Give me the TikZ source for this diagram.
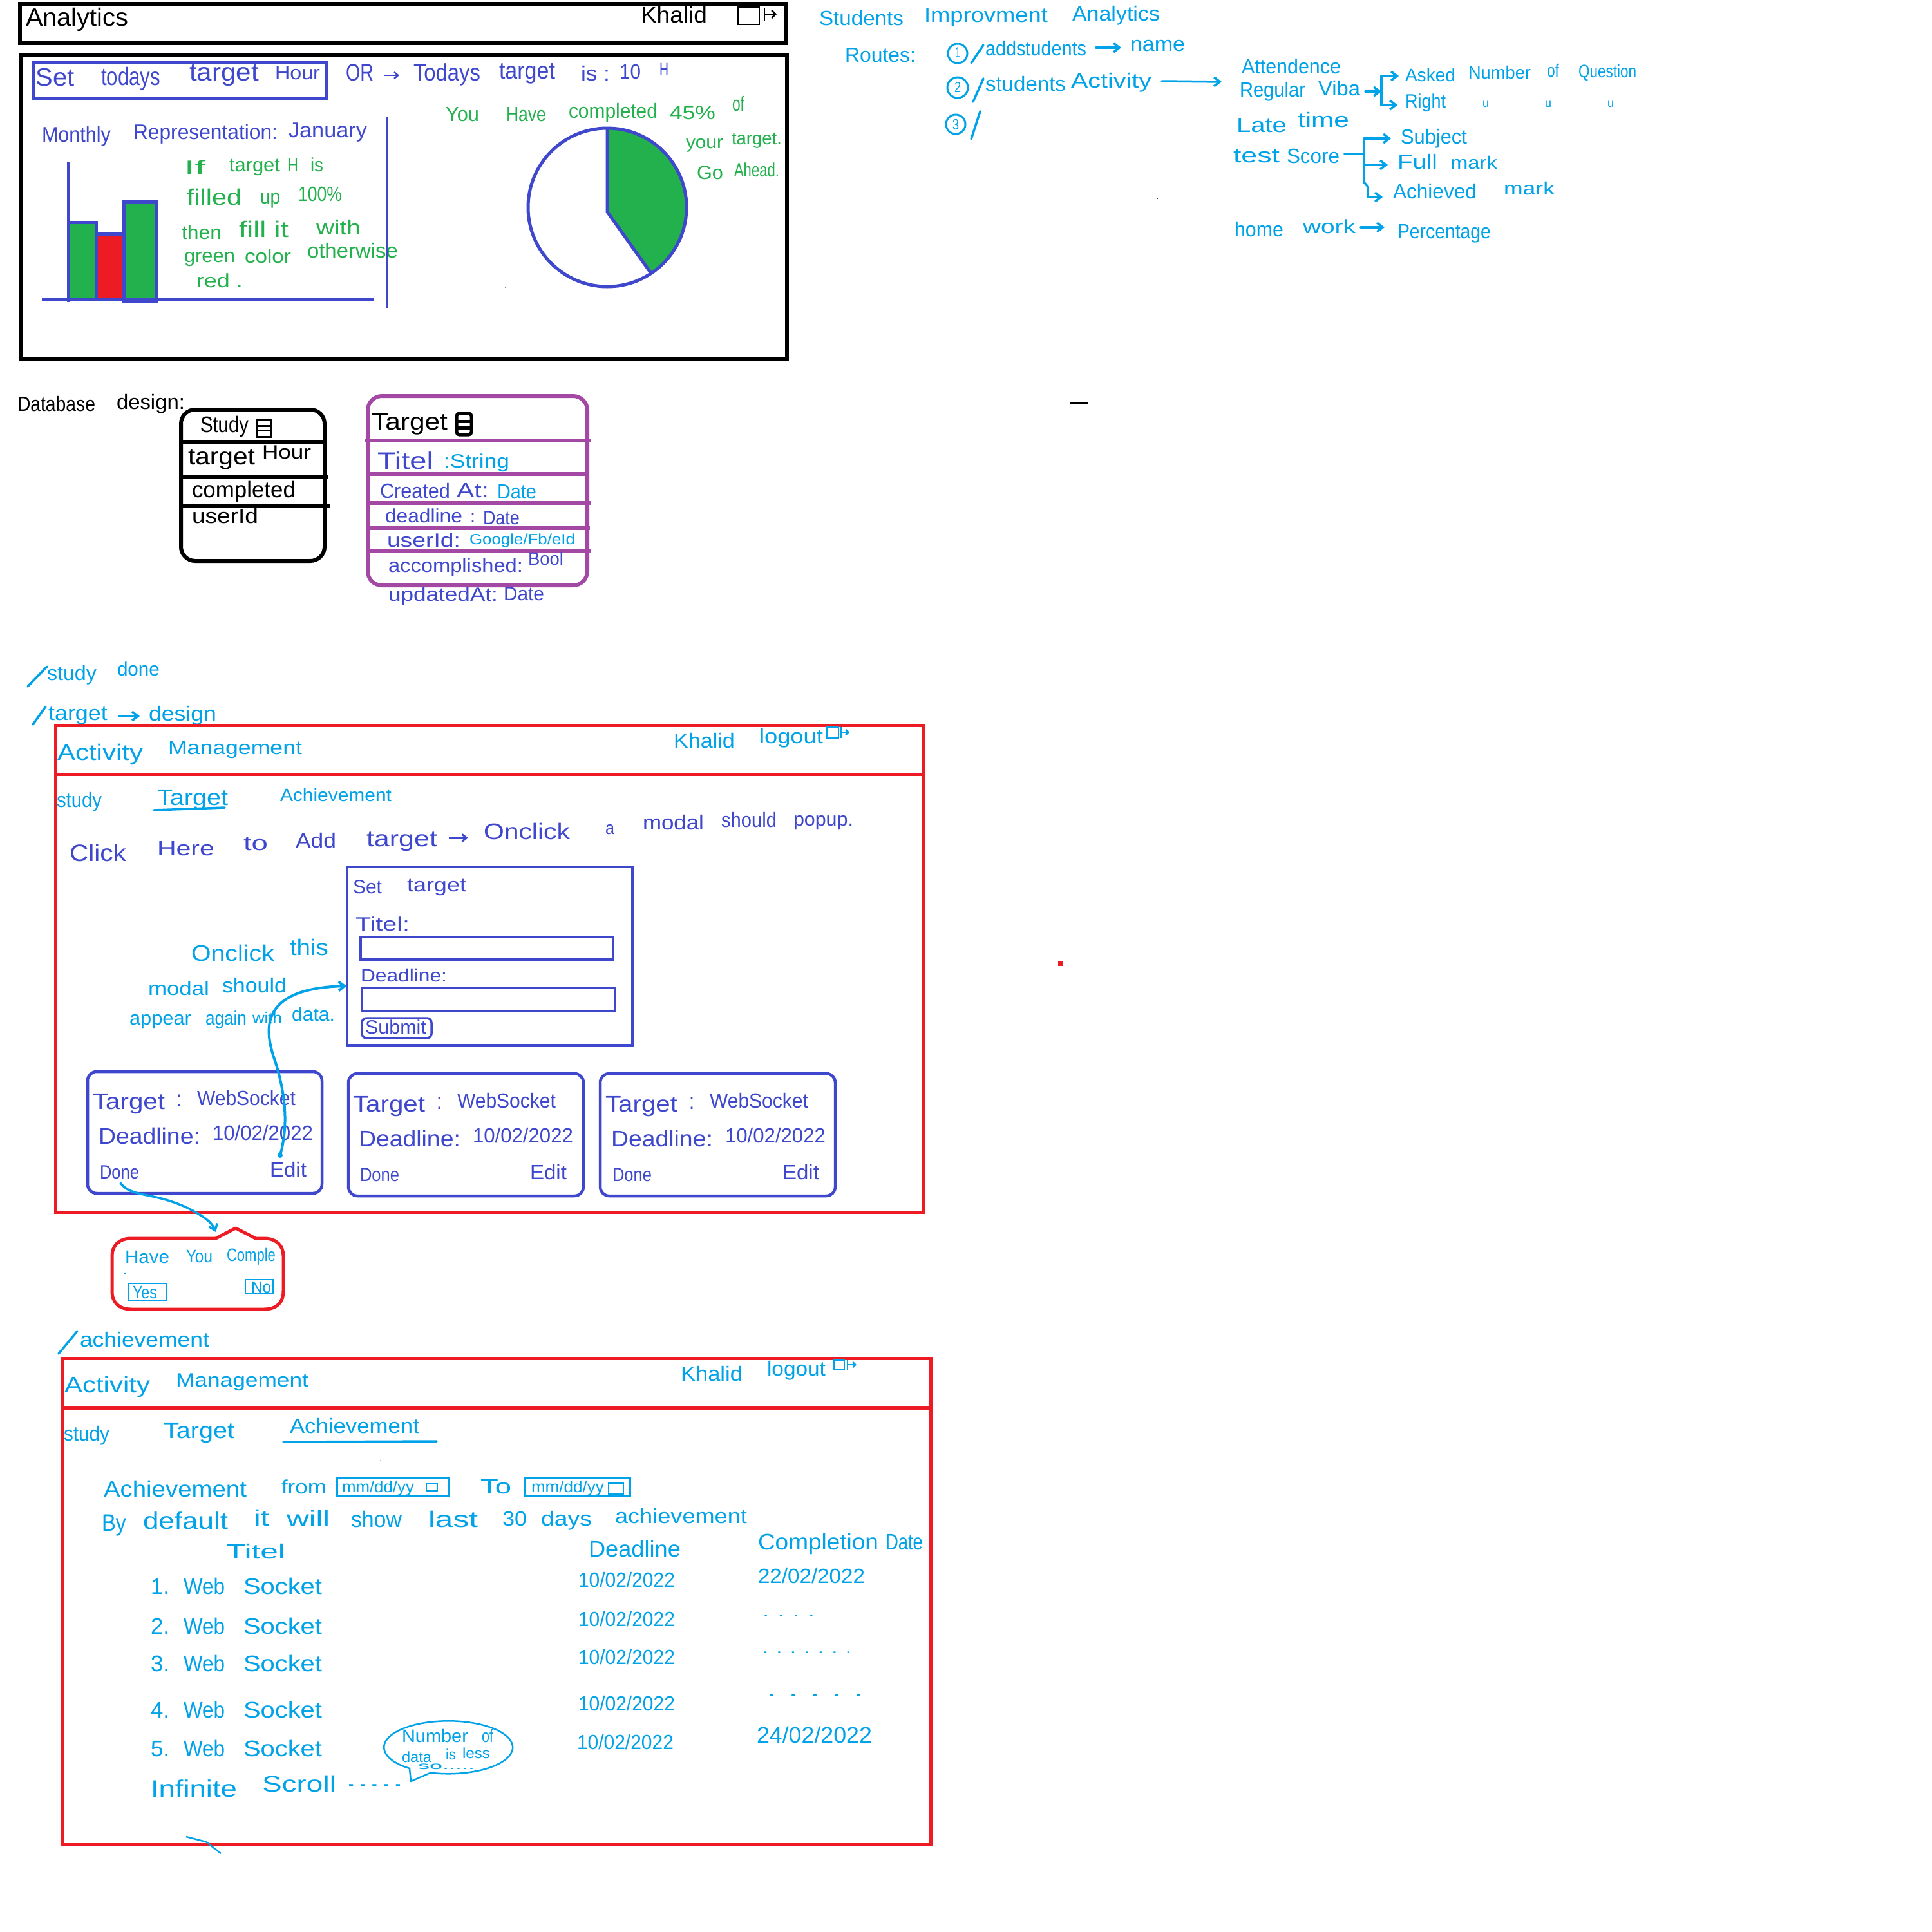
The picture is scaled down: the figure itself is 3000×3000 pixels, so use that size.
\documentclass[tikz,border=0pt]{standalone}
\usepackage{fontspec}
\setmainfont{Liberation Sans}
\usetikzlibrary{arrows.meta}
\definecolor{bl}{HTML}{3F48CC}
\definecolor{lb}{HTML}{00A2E8}
\definecolor{gr}{HTML}{22B14C}
\definecolor{rd}{HTML}{ED1C24}
\definecolor{pu}{HTML}{A349A4}
\newcounter{tx}
\newdimen\twd
\def\cc{black}
% x-start, x-end, baseline, font size, text
\newcommand\T[5]{\stepcounter{tx}\node[anchor=base west,inner sep=0pt,outer sep=0pt,text=\cc] (t\arabic{tx}) at (#1,#3) {\twd=\dimexpr#2pt-#1pt\relax\fontsize{\the\numexpr#4*23/20\relax}{\the\numexpr#4*23/20\relax}\selectfont\resizebox{\twd}{\height}{#5}};}
\tikzset{
 arr/.style={-{Straight Barb[length=9pt,width=14pt]},line width=3.5pt,lb,line cap=round},
 lbline/.style={line width=3.5pt,lb,line cap=round},
 redbox/.style={draw=rd,line width=5pt},
 blbox/.style={draw=bl,line width=4.5pt},
}
\newcommand\Card[2]{\begin{scope}[shift={(#1,#2)}]
 \T{144}{256}{1722}{30}{Target}
 \T{274}{282}{1718}{30}{:}
 \T{306}{459}{1716}{28}{WebSocket}
 \T{153}{311}{1776}{30}{Deadline:}
 \T{330}{486}{1770}{28}{10/02/2022}
 \T{155}{216}{1830}{26}{Done}
 \T{419}{476}{1827}{28}{Edit}
\end{scope}}
\newcommand\Row[3]{\T{234}{263}{#1}{30}{#2.}\T{285}{349}{#1}{30}{Web}\T{378}{500}{#1}{30}{Socket}}
\begin{document}
\begin{tikzpicture}[x=1pt,y=-1pt]
\useasboundingbox (0,0) rectangle (3000,3000);
\fill[white] (0,0) rectangle (3000,3000);
% --- Analytics wireframe
\draw[black,line width=6pt] (31,6) rectangle (1220,67);
\draw[black,line width=6pt] (33,85) rectangle (1222,558);
\def\cc{black}
\T{40}{199}{41}{34}{Analytics}
\T{995}{1098}{36}{30}{Khalid}
\draw[black,line width=2.5pt] (1146,11) rectangle (1179,38);
\draw[black,line width=2.5pt,-{Straight Barb[length=6pt,width=12pt]}] (1187,12) -- (1187,33) (1187,22) -- (1206,22);
\draw[blbox,line width=5pt] (51,98) rectangle (506,153);
\def\cc{bl}
\T{56}{116}{134}{34}{Set}
\T{157}{249}{132}{34}{todays}
\T{294}{402}{126}{34}{target}
\T{427}{497}{123}{26}{Hour}
\T{537}{580}{126}{32}{OR}
\draw[bl,line width=2.5pt,-{Straight Barb[length=6pt,width=10pt]}] (597,117) -- (620,117);
\T{642}{746}{126}{32}{Todays}
\T{775}{862}{123}{32}{target}
\T{902}{947}{126}{28}{is :}
\T{962}{995}{123}{28}{10}
\T{1024}{1038}{118}{24}{H}
\T{65}{172}{220}{29}{Monthly}
\T{207}{431}{216}{29}{Representation:}
\T{448}{570}{213}{29}{January}
\def\cc{gr}
\T{692}{744}{188}{28}{You}
\T{786}{848}{188}{28}{Have}
\T{883}{1021}{183}{28}{completed}
\T{1040}{1111}{185}{26}{45\%}
\T{1137}{1156}{172}{28}{of}
\T{1065}{1123}{230}{24}{your}
\T{1136}{1214}{224}{24}{target.}
\T{1082}{1123}{278}{26}{Go}
\T{1140}{1210}{274}{26}{Ahead.}
\T{286}{319}{270}{26}{If}
\T{356}{435}{266}{26}{target}
\T{446}{463}{266}{26}{H}
\T{482}{502}{266}{26}{is}
\T{290}{375}{318}{30}{filled}
\T{404}{435}{316}{28}{up}
\T{463}{531}{312}{28}{100\%}
\T{282}{344}{371}{26}{then}
\T{371}{448}{368}{30}{fill it}
\T{491}{560}{364}{28}{with}
\T{286}{365}{407}{26}{green}
\T{380}{452}{408}{26}{color}
\T{477}{618}{400}{28}{otherwise}
\T{305}{377}{446}{26}{red .}
% pie
\fill[gr] (943,199) arc[start angle=-90,end angle=56.4,radius=123] -- (943,329) -- cycle;
\draw[bl,line width=5pt] (943,322) circle[radius=123];
\draw[bl,line width=5pt,line join=round] (943,199) -- (943,329) -- (1010,423);
% bars
\draw[bl,line width=4pt] (106,252) -- (106,469);
\filldraw[fill=gr,draw=bl,line width=5pt] (106,345) rectangle (149,465);
\filldraw[fill=rd,draw=bl,line width=5pt] (149,363) rectangle (192,465);
\filldraw[fill=gr,draw=bl,line width=5pt] (192,313) rectangle (243,467);
\draw[bl,line width=5pt] (65,465) -- (580,465);
\draw[bl,line width=4pt] (601,182) -- (601,478);
\fill[black] (785,446) circle[radius=1pt];
% --- Right notes
\def\cc{lb}
\T{1272}{1403}{40}{28}{Students}
\T{1435}{1627}{35}{28}{Improvment}
\T{1665}{1801}{33}{28}{Analytics}
\T{1312}{1422}{97}{28}{Routes:}
\draw[lb,line width=3pt] (1487,83) circle[radius=15] (1487,136) circle[radius=16] (1484,193) circle[radius=15];
\T{1483}{1491}{90}{20}{1}
\T{1482}{1492}{143}{20}{2}
\T{1479}{1489}{201}{20}{3}
\draw[lbline] (1508,98) -- (1527,70);
\T{1530}{1687}{87}{28}{addstudents}
\draw[arr] (1702,74) -- (1741,74);
\T{1755}{1840}{80}{28}{name}
\draw[lbline] (1511,158) -- (1527,122);
\T{1530}{1655}{142}{28}{students}
\T{1663}{1788}{137}{28}{Activity}
\draw[arr] (1804,126) -- (1897,127);
\draw[lbline] (1508,216) -- (1522,173);
\T{1928}{2082}{115}{28}{Attendence}
\T{1925}{2027}{150}{28}{Regular}
\T{2047}{2112}{148}{28}{Viba}
\draw[arr] (2120,142) -- (2145,142);
\draw[arr] (2145,118) -- (2145,163) -- (2170,163);
\draw[arr] (2145,118) -- (2172,118);
\T{2182}{2260}{127}{24}{Asked}
\T{2280}{2377}{123}{24}{Number}
\T{2402}{2421}{120}{24}{of}
\T{2451}{2541}{121}{24}{Question}
\T{2182}{2245}{167}{26}{Right}
\T{2302}{2312}{166}{16}{u}
\T{2399}{2409}{166}{16}{u}
\T{2496}{2506}{166}{16}{u}
\T{1920}{1998}{205}{28}{Late}
\T{2015}{2095}{197}{28}{time}
\T{1915}{1987}{252}{28}{test}
\T{1998}{2080}{253}{28}{Score}
\draw[lbline] (2088,239) -- (2118,239);
\draw[arr] (2118,215) -- (2160,215);
\draw[arr] (2118,256) -- (2155,256);
\draw[arr] (2118,215) -- (2118,283) -- (2124,290) -- (2124,306) -- (2147,306);
\T{2175}{2278}{223}{28}{Subject}
\T{2170}{2232}{262}{28}{Full}
\T{2252}{2325}{262}{24}{mark}
\T{2163}{2293}{308}{28}{Achieved}
\T{2335}{2414}{302}{24}{mark}
\T{1917}{1993}{367}{28}{home}
\T{2023}{2105}{362}{26}{work}
\draw[arr] (2113,353) -- (2150,353);
\T{2170}{2315}{370}{28}{Percentage}
\fill[black] (1797,308) circle[radius=1pt];
\draw[black,line width=4pt] (1661,626) -- (1690,626);
\fill[rd] (1643,1493) rectangle (1650,1500);
% --- Database
\def\cc{black}
\T{27}{148}{638}{28}{Database}
\T{181}{287}{635}{28}{design:}
\draw[black,line width=6pt,rounded corners=22pt] (281,636) rectangle (504,871);
\draw[black,line width=6pt] (281,687) -- (507,687) (279,741) -- (509,741) (281,786) -- (512,786);
\T{311}{386}{671}{30}{Study}
\draw[black,line width=3pt] (399,652) rectangle (421,678) (399,661) -- (421,661) (399,668) -- (421,668);
\T{292}{396}{721}{32}{target}
\T{407}{483}{712}{26}{Hour}
\T{298}{459}{772}{30}{completed}
\T{298}{401}{812}{28}{userId}
\draw[pu,line width=6pt,rounded corners=22pt] (571,615) rectangle (912,909);
\draw[pu,line width=6pt] (567,684) -- (917,684) (571,736) -- (914,736) (571,781) -- (917,781) (568,820) -- (916,820) (573,856) -- (917,856);
\T{577}{695}{667}{32}{Target}
\draw[black,line width=5pt,rounded corners=4pt] (709,642) rectangle (732,675);
\draw[black,line width=5pt] (709,654) -- (732,654) (709,664) -- (732,664);
\def\cc{bl}
\T{586}{673}{728}{32}{Titel}
\T{590}{699}{773}{28}{Created}
\T{709}{759}{772}{28}{At:}
\T{598}{718}{811}{26}{deadline}
\T{730}{738}{811}{24}{:}
\T{750}{807}{814}{26}{Date}
\T{601}{715}{849}{26}{userId:}
\T{603}{812}{888}{26}{accomplished:}
\T{820}{875}{877}{24}{Bool}
\T{603}{773}{933}{26}{updatedAt:}
\T{782}{845}{932}{26}{Date}
\def\cc{lb}
\T{689}{791}{726}{26}{:String}
\T{772}{833}{774}{28}{Date}
\T{729}{893}{845}{20}{Google/Fb/eId}
\draw[lbline] (43,1066) -- (73,1035);
\T{73}{150}{1056}{28}{study}
\T{182}{248}{1049}{26}{done}
\draw[lbline] (51,1125) -- (71,1097);
\T{75}{167}{1118}{28}{target}
\draw[arr] (185,1112) -- (217,1112);
\T{231}{336}{1119}{28}{design}
% --- Target page
\draw[redbox] (86,1126) rectangle (1434,1882);
\draw[rd,line width=5pt] (86,1202) -- (1436,1202);
\T{89}{222}{1180}{30}{Activity}
\T{261}{469}{1171}{26}{Management}
\T{1046}{1141}{1161}{28}{Khalid}
\T{1179}{1278}{1154}{28}{logout}
\draw[lb,line width=2.5pt] (1284,1129) rectangle (1302,1146);
\draw[lb,line width=2.5pt,-{Straight Barb[length=4pt,width=8pt]}] (1306,1129) -- (1306,1146) (1306,1137) -- (1319,1137);
\T{88}{158}{1253}{28}{study}
\T{244}{354}{1250}{30}{Target}
\draw[lbline] (239,1258) -- (349,1254);
\T{435}{608}{1244}{24}{Achievement}
\def\cc{bl}
\T{108}{196}{1337}{32}{Click}
\T{244}{333}{1328}{28}{Here}
\T{378}{416}{1320}{28}{to}
\T{459}{522}{1316}{28}{Add}
\T{569}{679}{1314}{30}{target}
\draw[bl,line width=3pt,-{Straight Barb[length=7pt,width=11pt]}] (697,1301) -- (727,1301);
\T{751}{885}{1303}{30}{Onclick}
\T{940}{954}{1295}{24}{a}
\T{998}{1093}{1288}{28}{modal}
\T{1120}{1206}{1284}{28}{should}
\T{1232}{1325}{1282}{26}{popup.}
\draw[blbox] (539,1346) rectangle (982,1623);
\T{548}{593}{1387}{26}{Set}
\T{632}{724}{1384}{26}{target}
\T{552}{636}{1445}{26}{Titel:}
\draw[blbox] (560,1455) rectangle (952,1490);
\T{560}{694}{1524}{24}{Deadline:}
\draw[blbox] (562,1534) rectangle (955,1570);
\draw[bl,line width=3.5pt,rounded corners=7pt] (562,1581) rectangle (670,1612);
\T{567}{662}{1605}{26}{Submit}
\draw[blbox,rounded corners=14pt] (136,1664) rectangle (500,1853);
\draw[blbox,rounded corners=14pt] (541,1667) rectangle (906,1857);
\draw[blbox,rounded corners=14pt] (932,1667) rectangle (1297,1857);
\Card{0}{0}
\Card{404}{4}
\Card{796}{4}
\def\cc{lb}
\T{297}{426}{1492}{30}{Onclick}
\T{450}{510}{1483}{30}{this}
\T{230}{325}{1545}{26}{modal}
\T{345}{445}{1541}{28}{should}
\T{201}{297}{1591}{26}{appear}
\T{319}{383}{1591}{26}{again}
\T{392}{438}{1589}{22}{with}
\T{453}{520}{1585}{26}{data.}
\fill[lb] (435,1794) circle[radius=4pt];
\draw[arr,line width=4pt] (435,1794) .. controls (450,1740) and (440,1690) .. (428,1650) .. controls (410,1600) and (400,1535) .. (538,1531);
\draw[arr] (187,1837) .. controls (205,1860) and (235,1850) .. (290,1875) .. controls (320,1890) and (330,1900) .. (335,1913);
% popup
\draw[rd,line width=5pt,line join=round] (204,1923) -- (335,1923) -- (366,1907) -- (397,1923) -- (410,1923) .. controls (430,1923) and (440,1935) .. (440,1950) -- (440,2005) .. controls (440,2022) and (430,2033) .. (410,2033) -- (204,2033) .. controls (184,2033) and (174,2022) .. (174,2005) -- (174,1950) .. controls (174,1935) and (184,1923) .. (204,1923) -- cycle;
\T{194}{263}{1961}{24}{Have}
\T{289}{330}{1960}{24}{You}
\T{352}{428}{1958}{24}{Comple}
\fill[lb] (194,1977) circle[radius=1.5pt];
\draw[lb,line width=2.5pt] (199,1993) rectangle (258,2019);
\T{206}{244}{2016}{24}{Yes}
\draw[lb,line width=2.5pt] (381,1987) rectangle (424,2009);
\T{390}{421}{2007}{22}{No}
% --- Achievement page
\draw[lbline] (91,2102) -- (120,2067);
\T{124}{325}{2091}{28}{achievement}
\draw[redbox] (96,2109) rectangle (1445,2864);
\draw[rd,line width=5pt] (96,2186) -- (1448,2186);
\T{100}{233}{2162}{30}{Activity}
\T{273}{479}{2153}{26}{Management}
\T{1057}{1153}{2144}{28}{Khalid}
\T{1191}{1282}{2136}{28}{logout}
\draw[lb,line width=2.5pt] (1295,2112) rectangle (1311,2127);
\draw[lb,line width=2.5pt,-{Straight Barb[length=4pt,width=8pt]}] (1316,2112) -- (1316,2127) (1316,2119) -- (1330,2119);
\T{99}{170}{2237}{28}{study}
\T{254}{364}{2233}{30}{Target}
\T{450}{651}{2225}{28}{Achievement}
\draw[lbline] (440,2239) -- (678,2238);
\fill[lb] (591,2268) circle[radius=0.8pt];
\T{161}{383}{2324}{30}{Achievement}
\T{437}{507}{2319}{26}{from}
\draw[lb,line width=3pt] (523,2295) rectangle (696,2322);
\T{531}{643}{2317}{22}{mm/dd/yy}
\draw[lb,line width=2.5pt] (662,2304) rectangle (679,2315);
\T{746}{794}{2319}{28}{To}
\draw[lb,line width=3pt] (815,2294) rectangle (978,2323);
\T{825}{938}{2317}{22}{mm/dd/yy}
\draw[lb,line width=2.5pt] (945,2303) rectangle (968,2320);
\T{158}{196}{2377}{32}{By}
\T{222}{354}{2374}{32}{default}
\T{394}{418}{2369}{30}{it}
\T{445}{512}{2370}{30}{will}
\T{545}{624}{2371}{30}{show}
\T{665}{742}{2371}{30}{last}
\T{780}{818}{2369}{28}{30}
\T{840}{919}{2369}{28}{days}
\T{955}{1160}{2365}{28}{achievement}
\T{351}{443}{2420}{28}{Titel}
\T{914}{1057}{2417}{30}{Deadline}
\T{1177}{1364}{2406}{30}{Completion}
\T{1375}{1433}{2406}{30}{Date}
\Row{2475}{1}{}
\Row{2537}{2}{}
\Row{2595}{3}{}
\Row{2667}{4}{}
\Row{2727}{5}{}
\T{898}{1048}{2464}{28}{10/02/2022}
\T{898}{1048}{2525}{28}{10/02/2022}
\T{898}{1048}{2584}{28}{10/02/2022}
\T{898}{1048}{2656}{28}{10/02/2022}
\T{896}{1046}{2716}{28}{10/02/2022}
\T{1177}{1343}{2458}{28}{22/02/2022}
\T{1175}{1354}{2706}{30}{24/02/2022}
\T{1184}{1265}{2510}{22}{. . . .}
\T{1184}{1322}{2567}{22}{. . . . . . .}
\T{1191}{1340}{2633}{22}{. . . . .}
% callout
\draw[lb,line width=2.5pt,line join=round] (636,2746) arc[start angle=127,end angle=466,x radius=100,y radius=41] -- (638,2766) -- cycle;
\T{624}{727}{2705}{24}{Number}
\T{748}{766}{2705}{24}{of}
\T{624}{670}{2736}{20}{data}
\T{692}{708}{2732}{20}{is}
\T{718}{761}{2730}{20}{less}
\T{649}{737}{2747}{14}{so.....}
\T{234}{368}{2790}{32}{Infinite}
\T{407}{522}{2782}{30}{Scroll}
\T{536}{627}{2774}{30}{.....}
\draw[lb,line width=2.5pt] (289,2852) -- (320,2860) -- (343,2878);
\end{tikzpicture}
\end{document}
